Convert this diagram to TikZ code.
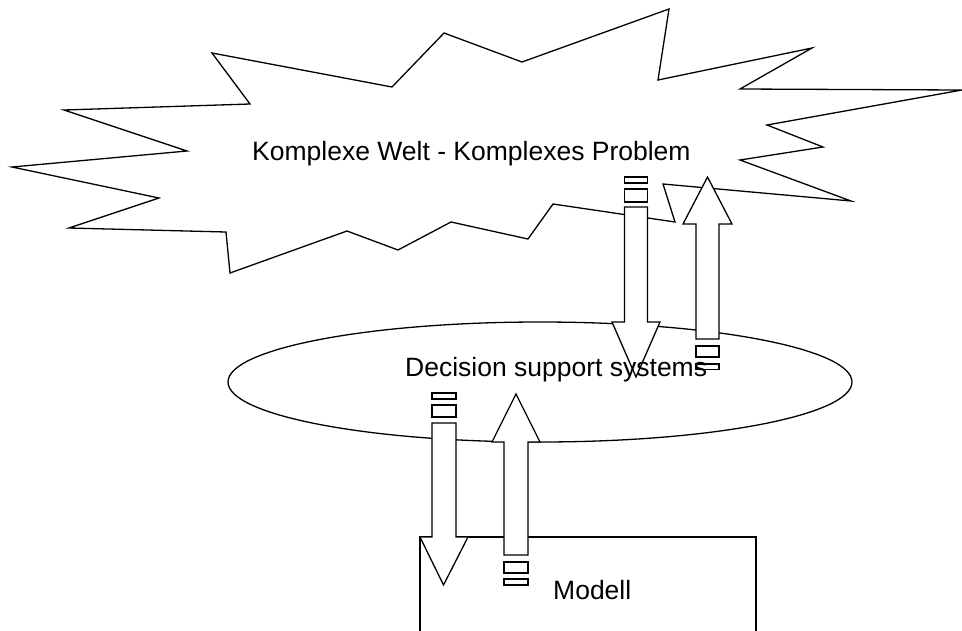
\documentclass[tikz,border=0pt]{standalone}
\usepackage{fontspec}
\setmainfont{Liberation Sans}
\tikzset{
  outline/.style={draw=black, fill=white, line width=1.3pt, line join=miter},
  label/.style={inner sep=0pt, anchor=base west, font=\fontsize{26.5}{30}\selectfont},
}
\begin{document}
\begin{tikzpicture}[x=1pt, y=-1pt]
\useasboundingbox (0,0) rectangle (962,630);
\clip (0,0) rectangle (962,630);

% the jagged cloud: complex world
\draw[outline] (212,53) -- (392,87) -- (444,33) -- (522,62) -- (669,9) -- (658,80)
  -- (812,48) -- (740,89) -- (962,90) -- (767,125) -- (823,147) -- (740,160)
  -- (851,201) -- (663,184) -- (675,222) -- (553,204) -- (528,239) -- (451,222)
  -- (398,250) -- (347,231) -- (230,273) -- (226,232) -- (69,228) -- (159,198)
  -- (12,167) -- (187,151) -- (64,110) -- (250,104) -- cycle;

% decision support systems
\draw[outline] (540,382) ellipse [x radius=312, y radius=60];

% model box
\draw[outline] (420,640) -- (420,537) -- (756,537) -- (756,640);

% upper pair of block arrows
\draw[outline] (624.5,207) -- (647.5,207) -- (647.5,322) -- (660,322) -- (636,377)
  -- (612,322) -- (624.5,322) -- cycle;
\draw[outline] (624.5,177) rectangle (647.5,183);
\draw[outline] (624.5,189) rectangle (647.5,202);

\draw[outline] (696,339) -- (719,339) -- (719,224) -- (732,224) -- (707.5,177)
  -- (683,224) -- (696,224) -- cycle;
\draw[outline] (696,346) rectangle (719,357);
\draw[outline] (696,364) rectangle (719,369.5);

% lower pair of block arrows
\draw[outline] (432,423) -- (456,423) -- (456,537) -- (468,537) -- (443.5,585)
  -- (420,537) -- (432,537) -- cycle;
\draw[outline] (432,393) rectangle (456,399);
\draw[outline] (432,405) rectangle (456,417);

\draw[outline] (504,555) -- (528,555) -- (528,442) -- (540,442) -- (516,394)
  -- (492,442) -- (504,442) -- cycle;
\draw[outline] (504,562) rectangle (528,573);
\draw[outline] (504,579) rectangle (528,585);

% labels
\node[label] (welt) at (252,160) {Komplexe Welt - Komplexes Problem};
\node[label] (dss) at (405,376) {Decision support systems};
\node[label] (modell) at (553,599) {Modell};
\end{tikzpicture}
\end{document}
